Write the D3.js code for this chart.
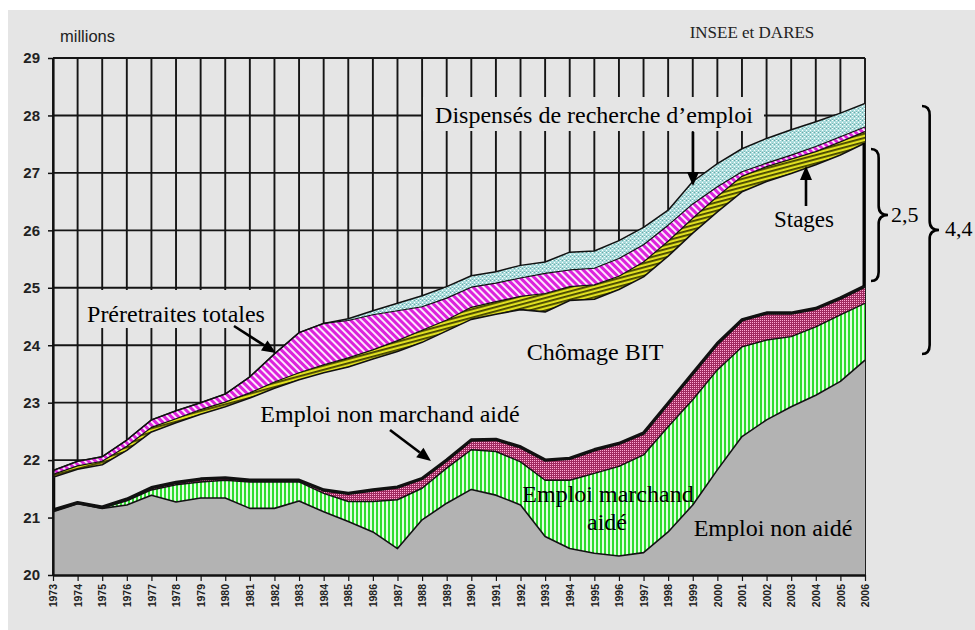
<!DOCTYPE html>
<html><head><meta charset="utf-8">
<script src="https://cdn.jsdelivr.net/npm/d3@7"></script>
<style>html,body{margin:0;padding:0;background:#fff;}svg{display:block}</style>
</head><body><svg id="c" width="975" height="630"></svg>
<script>
const years = [1973,1974,1975,1976,1977,1978,1979,1980,1981,1982,1983,1984,1985,1986,1987,1988,1989,1990,
  1991,1992,1993,1994,1995,1996,1997,1998,1999,2000,2001,2002,2003,2004,2005,2006];
const emploiNonAide = [21.10,21.24,21.16,21.22,21.39,21.27,21.34,21.34,21.16,21.16,21.29,21.10,20.93,20.75,20.46,20.96,21.25,21.49,
  21.39,21.22,20.67,20.46,20.38,20.33,20.39,20.75,21.22,21.83,22.41,22.70,22.93,23.13,23.37,23.74];
const emploiMarchandAide = [0.02,0.01,0.01,0.07,0.09,0.30,0.28,0.31,0.46,0.46,0.33,0.32,0.35,0.53,0.85,0.55,0.61,0.69,
  0.76,0.75,0.98,1.19,1.39,1.56,1.70,1.83,1.83,1.74,1.56,1.39,1.22,1.19,1.16,0.99];
const emploiNonMarchandAide = [0.01,0.01,0.01,0.03,0.04,0.04,0.05,0.04,0.03,0.03,0.03,0.06,0.14,0.20,0.22,0.17,0.14,0.17,
  0.21,0.26,0.35,0.38,0.41,0.40,0.38,0.41,0.46,0.46,0.47,0.47,0.41,0.32,0.29,0.30];
const chomageBIT = [0.57,0.58,0.74,0.85,0.97,1.04,1.13,1.24,1.43,1.60,1.75,2.04,2.20,2.28,2.36,2.37,2.25,2.10,
  2.18,2.39,2.58,2.75,2.62,2.68,2.72,2.56,2.44,2.29,2.23,2.29,2.43,2.50,2.49,2.49];
const stages = [0.05,0.06,0.06,0.07,0.08,0.07,0.08,0.08,0.09,0.11,0.12,0.14,0.16,0.16,0.19,0.21,0.19,0.21,
  0.22,0.23,0.32,0.24,0.25,0.23,0.26,0.26,0.26,0.27,0.27,0.26,0.25,0.23,0.23,0.20];
const preretraites = [0.07,0.08,0.08,0.11,0.13,0.14,0.12,0.14,0.28,0.49,0.70,0.72,0.65,0.61,0.52,0.41,0.38,0.35,
  0.32,0.32,0.35,0.29,0.29,0.31,0.30,0.28,0.25,0.17,0.08,0.06,0.07,0.09,0.09,0.08];
const dispenses = [0,0,0,0,0,0,0,0,0,0,0,0,0.03,0.07,0.13,0.19,0.20,0.20,
  0.20,0.22,0.20,0.31,0.30,0.31,0.30,0.26,0.39,0.40,0.40,0.43,0.44,0.43,0.41,0.41];
const yTicks = [20,21,22,23,24,25,26,27,28,29];

const keys = ["nonAide","marchand","nonMarchand","chomage","stages","preret","dispenses"];
const table = years.map((yr,i)=>({year:yr, nonAide:emploiNonAide[i], marchand:emploiMarchandAide[i],
  nonMarchand:emploiNonMarchandAide[i], chomage:chomageBIT[i], stages:stages[i], preret:preretraites[i], dispenses:dispenses[i]}));

const BG = "#e5e5e5";
const svg = d3.select("#c");
const L=53, R=865, T=58, B=575;
const x = d3.scaleLinear().domain([1973,2006]).range([L,R]);
const y = d3.scaleLinear().domain([20,29]).range([B,T]);

svg.append("rect").attr("x",8).attr("y",10).attr("width",967).attr("height",620).attr("fill",BG);

const defs = svg.append("defs");
defs.append("clipPath").attr("id","plotClip").append("rect").attr("x",L).attr("y",T).attr("width",R-L).attr("height",B-T);
let p;
p = defs.append("pattern").attr("id","pGreen").attr("width",4).attr("height",4).attr("patternUnits","userSpaceOnUse");
p.append("rect").attr("width",4).attr("height",4).attr("fill","#e2ffe2");
p.append("rect").attr("width",2).attr("height",4).attr("fill","#2fdc2f");
p = defs.append("pattern").attr("id","pRed").attr("width",2).attr("height",2).attr("patternUnits","userSpaceOnUse");
p.append("rect").attr("width",2).attr("height",2).attr("fill","#a02a60");
p.append("rect").attr("width",1).attr("height",1).attr("fill","#ffaad4");
p = defs.append("pattern").attr("id","pStages").attr("width",4).attr("height",4).attr("patternUnits","userSpaceOnUse").attr("patternTransform","rotate(-15)");
p.append("rect").attr("width",4).attr("height",4).attr("fill","#e0e020");
p.append("rect").attr("width",4).attr("height",1.8).attr("fill","#424200");
p = defs.append("pattern").attr("id","pPreret").attr("width",5).attr("height",5).attr("patternUnits","userSpaceOnUse").attr("patternTransform","rotate(-45)");
p.append("rect").attr("width",5).attr("height",5).attr("fill","#fbe8fb");
p.append("rect").attr("width",3).attr("height",5).attr("fill","#dc22dc");
p = defs.append("pattern").attr("id","pDisp").attr("width",4).attr("height",4).attr("patternUnits","userSpaceOnUse");
p.append("rect").attr("width",4).attr("height",4).attr("fill","#abdcdc");
p.append("rect").attr("x",0).attr("y",0).attr("width",1).attr("height",1).attr("fill","#ffffff");
p.append("rect").attr("x",2).attr("y",2).attr("width",1).attr("height",1).attr("fill","#ffffff");
p.append("rect").attr("x",2).attr("y",0).attr("width",1).attr("height",1).attr("fill","#6aa6a6");
p.append("rect").attr("x",0).attr("y",3).attr("width",1).attr("height",1).attr("fill","#7fb8b8");

// grid
const grid = svg.append("g").attr("stroke","#151515").attr("stroke-width",1.9);
grid.selectAll("line.h").data(yTicks).join("line").attr("x1",L).attr("x2",R).attr("y1",d=>y(d)).attr("y2",d=>y(d));
grid.selectAll("line.v").data(years).join("line").attr("x1",d=>x(d)).attr("x2",d=>x(d)).attr("y1",T).attr("y2",B);

// areas
const series = d3.stack().keys(keys)(table);
const fills = {nonAide:"#b3b3b3", marchand:"url(#pGreen)", nonMarchand:"url(#pRed)", chomage:BG,
  stages:"url(#pStages)", preret:"url(#pPreret)", dispenses:"url(#pDisp)"};
const area = d3.area().x(d=>x(d.data.year)).y0(d=>y(d[0])).y1(d=>y(d[1]));
const gA = svg.append("g").attr("clip-path","url(#plotClip)");
gA.selectAll("path.a").data(series).join("path").attr("d",area).attr("fill",s=>fills[s.key]);
const topLine = d3.line().x(d=>x(d.data.year)).y(d=>y(d[1]));
const widths = {nonAide:1.6, marchand:1.4, nonMarchand:3.4, chomage:1.6, stages:1.2, preret:1.2, dispenses:1.5};
gA.selectAll("path.l").data(series).join("path").attr("d",topLine).attr("fill","none")
  .attr("stroke","#111").attr("stroke-width",s=>widths[s.key]).attr("stroke-linejoin","round");
const sNM = series[2], sCh = series[3];
const last = years.length-1;
gA.append("line").attr("x1",x(years[last])-1).attr("x2",x(years[last])-1)
  .attr("y1",y(sNM[last][1])).attr("y2",y(sCh[last][1])).attr("stroke","#000").attr("stroke-width",3);
gA.append("line").attr("x1",x(years[0])+1).attr("x2",x(years[0])+1)
  .attr("y1",y(sNM[0][1])).attr("y2",y(sCh[0][1])).attr("stroke","#000").attr("stroke-width",2.5);

// axes
const ax = svg.append("g").attr("transform",`translate(0,${B})`)
  .call(d3.axisBottom(x).tickValues(years).tickFormat(d=>String(d)).tickSize(6).tickSizeOuter(0));
ax.select(".domain").attr("stroke","#111").attr("stroke-width",2.5);
ax.selectAll(".tick line").attr("stroke","#111").attr("stroke-width",1.2);
ax.selectAll(".tick text").attr("transform","rotate(-90)").attr("text-anchor","end")
  .attr("x",-9).attr("y",0).attr("dy","0.35em")
  .attr("font-family","Liberation Sans, Arial, sans-serif").attr("font-weight","bold").attr("font-size",10.5).attr("fill","#222");
const ay = svg.append("g").attr("transform",`translate(${L},0)`)
  .call(d3.axisLeft(y).tickValues(yTicks).tickFormat(d=>String(d)).tickSize(5).tickSizeOuter(0).tickPadding(8));
ay.select(".domain").attr("stroke","#111").attr("stroke-width",2.2);
ay.selectAll(".tick line").attr("stroke","#111").attr("stroke-width",1.5);
ay.selectAll(".tick text").attr("font-family","Liberation Sans, Arial, sans-serif").attr("font-weight","bold")
  .attr("font-size",15).attr("fill","#222");

svg.append("text").attr("x",60).attr("y",42).text("millions")
  .attr("font-family","Liberation Sans, Arial, sans-serif").attr("font-size",16.5).attr("fill","#222");
svg.append("text").attr("x",752).attr("y",38).attr("text-anchor","middle").text("INSEE et DARES")
  .attr("font-family","Liberation Serif, Times New Roman, serif").attr("font-size",17).attr("fill","#222");

// labels
const serif = "Liberation Serif, Times New Roman, serif";
function label(txt, cx, by, size, box){
  if(box){ svg.append("rect").attr("x",box[0]).attr("y",box[1]).attr("width",box[2]-box[0]).attr("height",box[3]-box[1]).attr("fill",BG); }
  svg.append("text").attr("x",cx).attr("y",by).attr("text-anchor","middle").attr("font-family",serif)
    .attr("font-size",size).attr("fill","#000").text(txt);
}
label("Dispensés de recherche d\u2019emploi", 594, 123, 24, [423,97,764,131]);
label("Préretraites totales", 176, 322, 24, [82,290,272,328]);
label("Chômage BIT", 595, 360, 24);
label("Stages", 804, 227, 23);
label("Emploi non marchand aidé", 390, 422, 24);
label("Emploi marchand", 608, 502, 24);
label("aidé", 607, 530, 24);
label("Emploi non aidé", 773, 536, 24);

// arrows
function arrow(x1,y1,x2,y2){
  const a = Math.atan2(y2-y1,x2-x1), hl=14, hw=6;
  const bx = x2 - hl*Math.cos(a), by = y2 - hl*Math.sin(a);
  svg.append("line").attr("x1",x1).attr("y1",y1).attr("x2",bx).attr("y2",by).attr("stroke","#000").attr("stroke-width",2.6);
  const px = -Math.sin(a)*hw, py = Math.cos(a)*hw;
  svg.append("path").attr("d",`M${x2},${y2}L${bx+px},${by+py}L${bx-px},${by-py}Z`).attr("fill","#000");
}
arrow(234,326,276,353);
arrow(390,430,431,461);
arrow(693,132,693,186);
arrow(806,206,806,166);

// braces
function brace(x0,y1,y2,w){
  const xm=x0+w*0.45, xt=x0+w, ym=(y1+y2)/2, r=9;
  svg.append("path").attr("d",`M${x0},${y1}Q${xm},${y1} ${xm},${y1+r}L${xm},${ym-r}Q${xm},${ym} ${xt},${ym}Q${xm},${ym} ${xm},${ym+r}L${xm},${y2-r}Q${xm},${y2} ${x0},${y2}`)
    .attr("fill","none").attr("stroke","#000").attr("stroke-width",2.6);
}
brace(871,149,281,17);
brace(922,106,354,17);
svg.append("text").attr("x",891).attr("y",222).attr("font-family",serif).attr("font-size",22).attr("fill","#000").text("2,5");
svg.append("text").attr("x",945).attr("y",236).attr("font-family",serif).attr("font-size",22).attr("fill","#000").text("4,4");
</script></body></html>
